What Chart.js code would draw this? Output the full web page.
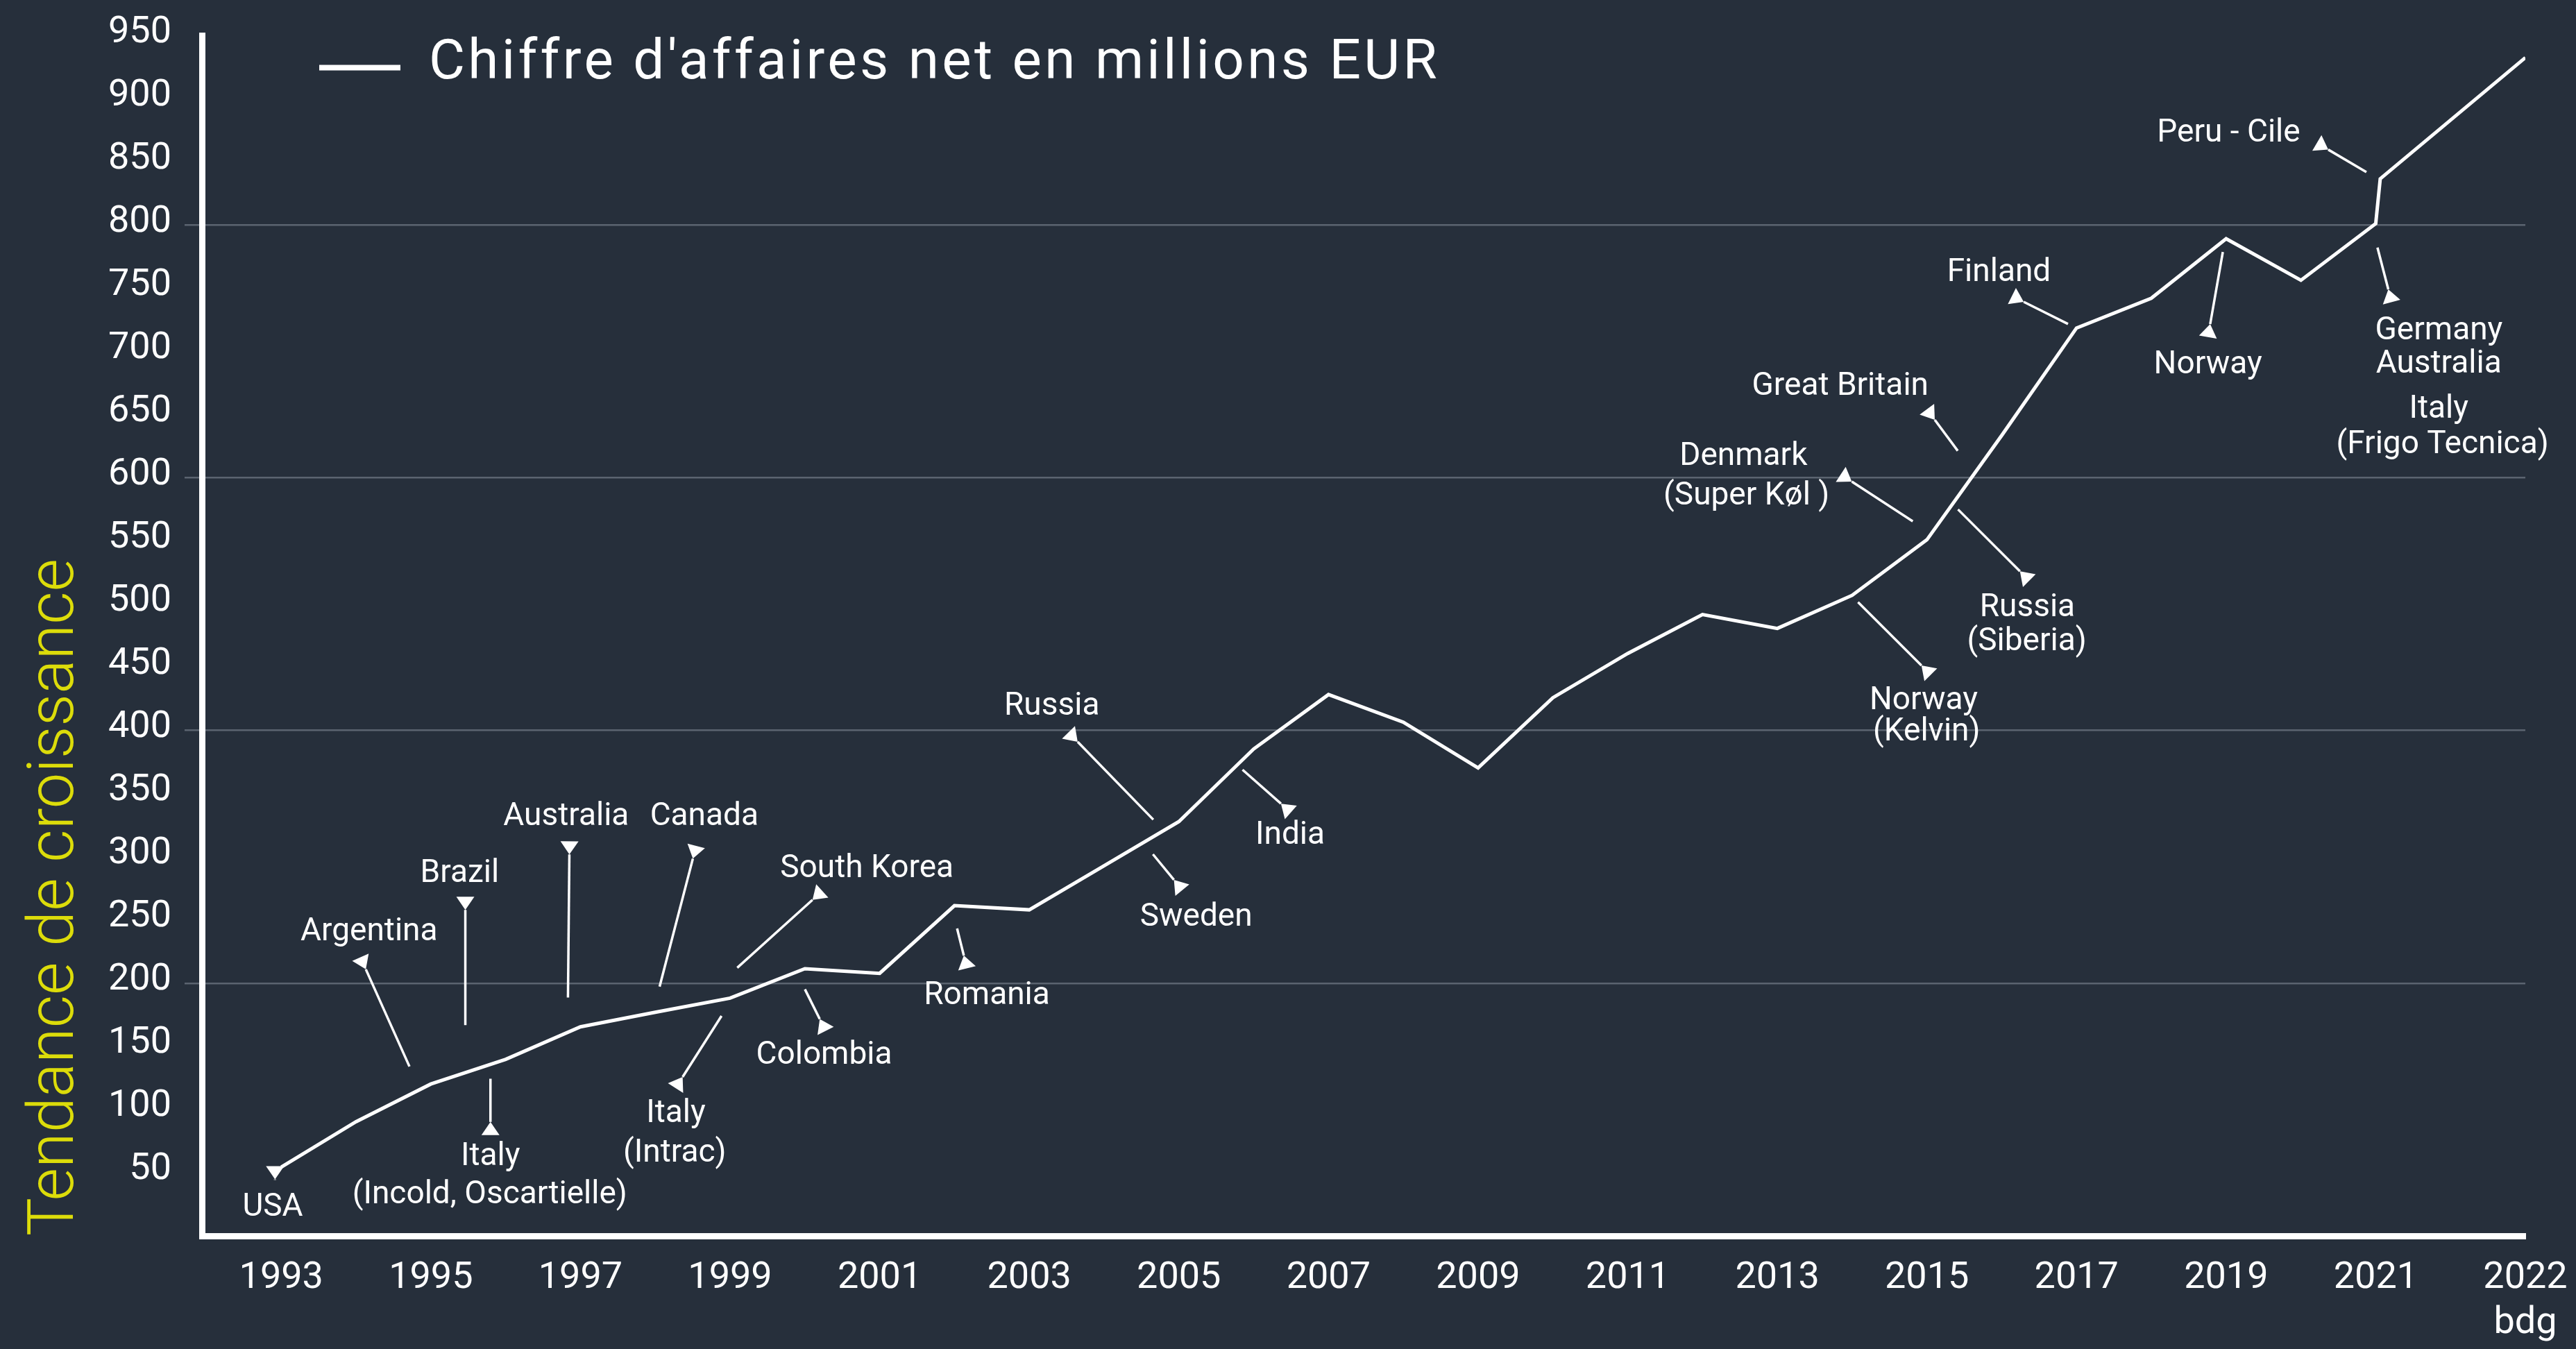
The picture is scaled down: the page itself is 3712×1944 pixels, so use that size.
<!DOCTYPE html>
<html>
<head>
<meta charset="utf-8">
<script src="https://cdn.jsdelivr.net/npm/chart.js@4"></script>
<style>
  html, body { margin: 0; padding: 0; background: #262f3b; }
  canvas { display: block; }
</style>
</head>
<body>
<canvas id="myChart" width="3712" height="1944"></canvas>
<script>
// years along the x-axis (the second 2021 point is the jump, the last one is the 2022 budget)
var years = [1993, 1994, 1995, 1996, 1997, 1998, 1999, 2000, 2001, 2002, 2003, 2004, 2005, 2006, 2007,
  2008, 2009, 2010, 2011, 2012, 2013, 2014, 2015, 2016, 2017, 2018, 2019, 2020, 2021, 2021.06, 2023];
// net turnover, millions EUR
var revenue = [54.5, 90.4, 120.2, 139.7, 165.5, 177, 188.2, 211.5, 207.8, 261.4, 258.1, 293, 327.9, 385.4, 428.5,
  406.6, 370.4, 426, 461, 491.8, 480.8, 507, 551, 633.6, 718.6, 742.2, 789.3, 756.4, 801.3, 836.7, 932.6];

// x tick positions and their labels
var tickYears = [1993, 1995, 1997, 1999, 2001, 2003, 2005, 2007, 2009, 2011, 2013, 2015, 2017, 2019, 2021, 2023];
var tickLabels = ['1993', '1995', '1997', '1999', '2001', '2003', '2005', '2007', '2009', '2011', '2013',
  '2015', '2017', '2019', '2021', ['2022', 'bdg']];

// arrows: [fromYear, fromValue, toYear, toValue] (arrowhead at the "to" end)
var arrows = [
  [1992.917, 44.3, 1992.917, 44.7],   // USA
  [1994.714, 134.1, 1994.131, 211.0], // Argentina
  [1995.461, 166.8, 1995.461, 258.0], // Brazil
  [1996.833, 188.7, 1996.852, 301.9], // Australia
  [1998.058, 197.3, 1998.503, 298.6], // Canada
  [1995.797, 124.4, 1995.797, 90.2],  // Italy (Incold)
  [1998.886, 174.1, 1998.366, 125.8], // Italy (Intrac)
  [1999.096, 212.2, 2000.102, 266.0], // South Korea
  [2000.001, 195.2, 2000.199, 171.6], // Colombia
  [2002.035, 243.3, 2002.125, 221.9], // Romania
  [2004.658, 329.5, 2003.647, 391.1], // Russia
  [2004.653, 302.1, 2004.934, 281.8], // Sweden
  [2005.851, 369.0, 2006.365, 342.1], // India
  [2014.079, 501.6, 2014.927, 451.5], // Norway (Kelvin)
  [2014.811, 565.6, 2013.996, 597.0], // Denmark
  [2015.412, 621.4, 2015.105, 645.9], // Great Britain
  [2015.416, 575.0, 2016.244, 526.0], // Russia (Siberia)
  [2016.886, 721.8, 2016.294, 739.3], // Finland
  [2018.956, 778.8, 2018.787, 721.7], // Norway
  [2020.875, 842.0, 2020.365, 859.8], // Peru - Cile
  [2021.023, 782.3, 2021.168, 749.2]  // Germany ...
];

// annotation texts: [text, year, value of the baseline]
var notes = [
  ['USA', 1992.886, 16.2],
  ['Argentina', 1994.174, 234.2],
  ['Brazil', 1995.385, 280.3],
  ['Australia', 1996.809, 325.0],
  ['Canada', 1998.655, 325.0],
  ['Italy', 1995.797, 55.8],
  ['(Incold, Oscartielle)', 1995.788, 25.6],
  ['Italy', 1998.276, 90.0],
  ['(Intrac)', 1998.261, 58.6],
  ['South Korea', 2000.829, 284.2],
  ['Colombia', 2000.257, 136.4],
  ['Romania', 2002.433, 183.2],
  ['Russia', 2003.302, 412.3],
  ['Sweden', 2005.231, 245.5],
  ['India', 2006.487, 310.3],
  ['Norway', 2014.957, 417.0],
  ['(Kelvin)', 2014.996, 392.3],
  ['Denmark', 2012.548, 610.4],
  ['(Super Køl )', 2012.588, 579.1],
  ['Great Britain', 2013.841, 665.5],
  ['Russia', 2016.343, 490.6],
  ['(Siberia)', 2016.335, 463.7],
  ['Finland', 2015.963, 756.0],
  ['Norway', 2018.757, 682.8],
  ['Peru - Cile', 2019.034, 866.0],
  ['Germany', 2021.844, 709.8],
  ['Australia', 2021.842, 683.2],
  ['Italy', 2021.842, 647.4],
  ['(Frigo Tecnica)', 2021.892, 619.6]
];

Chart.defaults.font.family = 'Roboto';
Chart.defaults.color = '#ffffff';

// arrows + texts drawn through the scales
var annotations = {
  id: 'annotations',
  afterDatasetsDraw: function (chart) {
    var ctx = chart.ctx, xs = chart.scales.x, ys = chart.scales.y;
    ctx.save();
    ctx.strokeStyle = '#ffffff';
    ctx.fillStyle = '#ffffff';
    ctx.lineWidth = 3.5;
    arrows.forEach(function (a) {
      var x0 = xs.getPixelForValue(a[0]), y0 = ys.getPixelForValue(a[1]);
      var x1 = xs.getPixelForValue(a[2]), y1 = ys.getPixelForValue(a[3]);
      ctx.beginPath();
      ctx.moveTo(x0, y0);
      ctx.lineTo(x1, y1);
      ctx.stroke();
      var len = Math.hypot(x1 - x0, y1 - y0) || 1;
      var ux = (x1 - x0) / len, uy = (y1 - y0) / len;
      var bx = x1 + ux * 19, by = y1 + uy * 19;
      ctx.beginPath();
      ctx.moveTo(x1, y1);
      ctx.lineTo(bx - uy * 13, by + ux * 13);
      ctx.lineTo(bx + uy * 13, by - ux * 13);
      ctx.closePath();
      ctx.fill();
    });
    ctx.font = '46px Roboto';
    ctx.textAlign = 'center';
    ctx.textBaseline = 'alphabetic';
    notes.forEach(function (n) {
      ctx.fillText(n[0], xs.getPixelForValue(n[1]), ys.getPixelForValue(n[2]));
    });
    ctx.restore();
  }
};

// legend drawn inside the plot area
var legendInside = {
  id: 'legendInside',
  afterDraw: function (chart) {
    var ds = chart.data.datasets[0];
    var ctx = chart.ctx, area = chart.chartArea;
    ctx.save();
    ctx.strokeStyle = ds.borderColor;
    ctx.lineWidth = 8;
    ctx.beginPath();
    ctx.moveTo(area.left + 169, area.top + 46);
    ctx.lineTo(area.left + 286, area.top + 46);
    ctx.stroke();
    ctx.fillStyle = '#ffffff';
    ctx.font = '80px Roboto';
    ctx.letterSpacing = '4.3px';
    ctx.textBaseline = 'alphabetic';
    ctx.fillText(ds.label, area.left + 327, area.top + 62);
    ctx.restore();
  }
};

var ctx = document.getElementById('myChart');
var myChart = new Chart(ctx, {
  type: 'line',
  data: {
    datasets: [{
      label: "Chiffre d'affaires net en millions EUR",
      data: years.map(function (yr, i) { return { x: yr, y: revenue[i] }; }),
      borderColor: '#ffffff',
      borderWidth: 5,
      borderJoinStyle: 'miter',
      pointRadius: 0,
      tension: 0,
      fill: false
    }]
  },
  options: {
    responsive: false,
    animation: false,
    devicePixelRatio: 1,
    layout: { padding: { top: 47, right: 73, bottom: 0, left: 0 } },
    plugins: {
      legend: { display: false },
      tooltip: { enabled: false }
    },
    scales: {
      x: {
        type: 'linear',
        min: 1991.94,
        max: 2023,
        afterBuildTicks: function (scale) {
          scale.ticks = tickYears.map(function (v) { return { value: v }; });
        },
        afterFit: function (scale) {
          scale.height = 163;
          scale.paddingLeft = 0;
          scale.paddingRight = 0;
        },
        ticks: {
          autoSkip: false,
          maxRotation: 0,
          padding: 29,
          color: '#ffffff',
          font: { size: 54 },
          callback: function (value) {
            var i = tickYears.indexOf(value);
            return i >= 0 ? tickLabels[i] : '';
          }
        },
        grid: { color: 'transparent', drawTicks: false },
        border: { color: '#ffffff', width: 9 }
      },
      y: {
        min: 0,
        max: 950,
        afterFit: function (scale) { scale.width = 291; },
        ticks: {
          stepSize: 50,
          includeBounds: false,
          padding: 19,
          labelOffset: -4,
          color: '#ffffff',
          font: { size: 54 },
          callback: function (value) { return value === 0 ? '' : value; }
        },
        grid: {
          color: function (c) {
            return (c.tick && c.tick.value !== 0 && c.tick.value % 200 === 0) ? '#5b6470' : 'transparent';
          },
          lineWidth: 2.5,
          tickLength: 25
        },
        border: { color: '#ffffff', width: 9 },
        title: {
          display: true,
          text: 'Tendance de croissance',
          color: '#dcdc0a',
          align: 'start',
          font: { size: 92, weight: 300 },
          padding: { top: 27, bottom: 0 }
        }
      }
    }
  },
  plugins: [annotations, legendInside]
});
</script>
</body>
</html>
